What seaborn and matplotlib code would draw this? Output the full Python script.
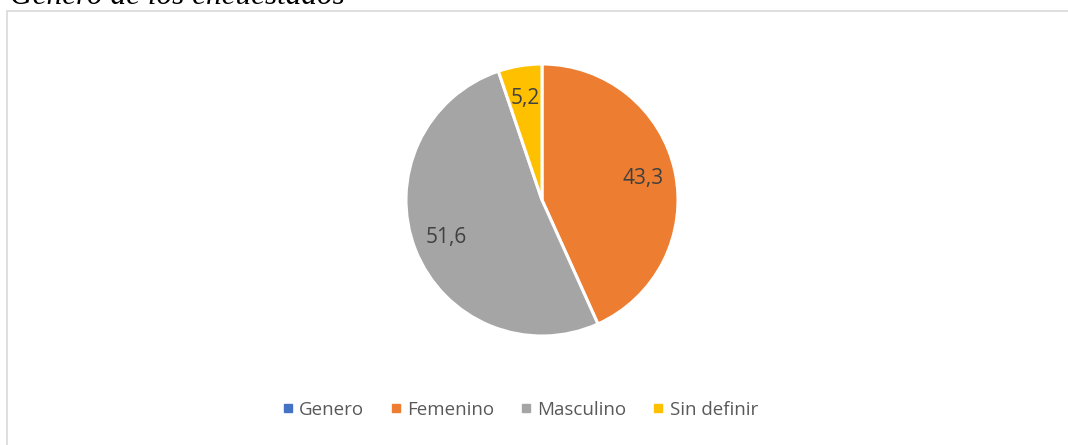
#!/usr/bin/env python3
import matplotlib

matplotlib.use("Agg")
import matplotlib.pyplot as plt
import seaborn as sns
from matplotlib.lines import Line2D
from matplotlib.patches import Rectangle
import numpy as np

# data
categories = ["Genero", "Femenino", "Masculino", "Sin definir"]
values = [0.0, 43.3, 51.6, 5.2]
colors = ["#4472C4", "#ED7D31", "#A5A5A5", "#FFC000"]
title = "Género de los encuestados"

sns.set_theme(style="white")
plt.rcParams["font.family"] = ["Open Sans", "DejaVu Sans"]

W, H = 1068, 445
fig = plt.figure(figsize=(W / 100, H / 100), dpi=100)
fig.patch.set_facecolor("white")

# chart area frame (only top/left edges visible in the crop)
fig.patches.append(Rectangle((6.5 / W, -0.2), 2.0, (H - 10.5) / H + 0.2,
                             transform=fig.transFigure, fill=False,
                             edgecolor="#D9D9D9", linewidth=1.2, zorder=0))

# cut-off caption above the chart
fig.text(10 / W, 1 - 4 / H, title, family="Liberation Serif", style="italic",
         fontsize=22.5, color="black", va="baseline", ha="left")

cx, cy, r = 542, 200, 136
ax = fig.add_axes([(cx - r) / W, (H - cy - r) / H, 2 * r / W, 2 * r / H])
wedges, _ = ax.pie(values, colors=colors, startangle=90, counterclock=False,
                   radius=1.0, wedgeprops={"edgecolor": "white", "linewidth": 2.2})
ax.set_xlim(-1, 1)
ax.set_ylim(-1, 1)
ax.set_aspect("equal")
ax.axis("off")

for w, v in zip(wedges, values):
    if v <= 0:
        continue
    ang = np.deg2rad((w.theta1 + w.theta2) / 2)
    ax.text(0.76 * np.cos(ang), 0.76 * np.sin(ang), f"{v:.1f}".replace(".", ","),
            ha="center", va="center", fontsize=15, color="#404040")

handles = [Line2D([], [], marker="s", linestyle="none", markersize=6,
                  markerfacecolor=c, markeredgecolor=c) for c in colors]
fig.legend(handles, categories, loc="center", bbox_to_anchor=(520 / W, 1 - 410 / H),
           ncol=4, frameon=False, fontsize=13.5, labelcolor="#595959",
           handlelength=0.6, handletextpad=0.3, columnspacing=1.4)

fig.savefig("out.png", dpi=100)
